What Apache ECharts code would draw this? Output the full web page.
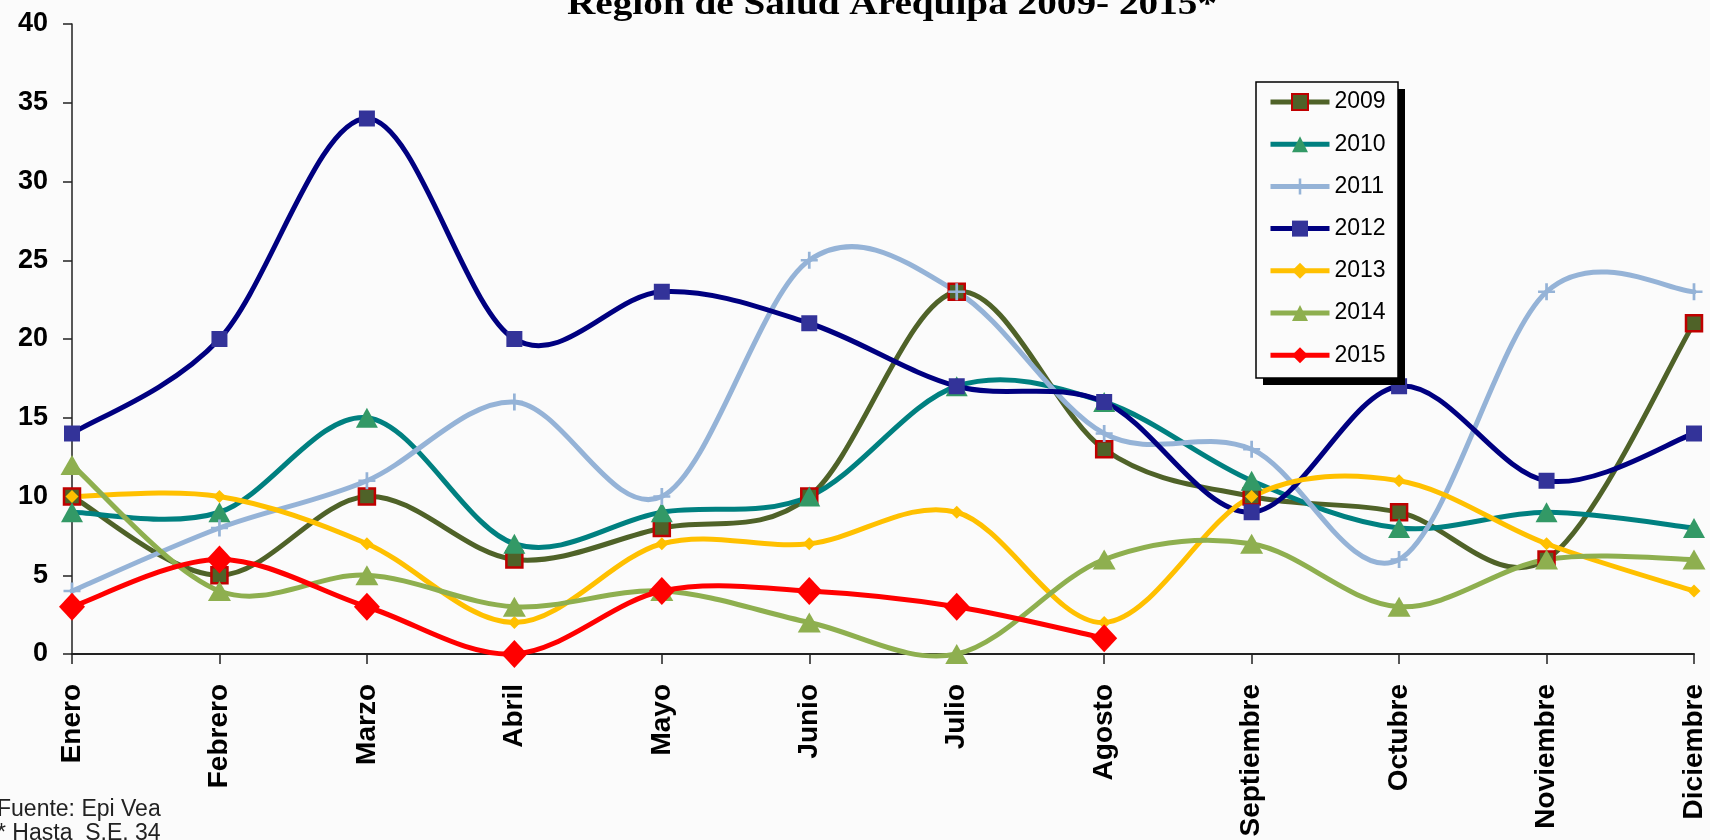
<!DOCTYPE html>
<html>
<head>
<meta charset="utf-8">
<script src="https://cdn.jsdelivr.net/npm/echarts@6/dist/echarts.min.js"></script>
<style>
html,body{margin:0;padding:0;background:#fbfbfb;}
#c{width:1710px;height:840px;}
</style>
</head>
<body>
<div id="c"></div>
<script>
const months = ['Enero','Febrero','Marzo','Abril','Mayo','Junio','Julio','Agosto','Septiembre','Octubre','Noviembre','Diciembre'];
const y2009 = [10,5,10,6,8,10,23,13,10,9,6,21];
const y2010 = [9,9,15,7,9,10,17,16,11,8,9,8];
const y2011 = [4,8,11,16,10,25,23,14,13,6,23,23];
const y2012 = [14,20,34,20,23,21,17,16,9,17,11,14];
const y2013 = [10,10,7,2,7,7,9,2,10,11,7,4];
const y2014 = [12,4,5,3,4,2,0,6,7,3,6,6];
const y2015 = [3,6,3,0,4,4,3,1,null,null,null,null];
const yTicks = [0,5,10,15,20,25,30,35,40];
const titleText = 'Región de Salud Arequipa 2009- 2015*';
const note1 = 'Fuente: Epi Vea';
const note2 = '* Hasta  S.E. 34';

const plus = 'path://M4.2,0h1.6v4.2h4.2v1.6h-4.2v4.2h-1.6v-4.2h-4.2v-1.6h4.2z';

// Excel-like smoothed line (Catmull-Rom bezier) drawn through the axes via api.coord
function smoothPath(values) {
  return function (params, api) {
    const segs = [];
    let cur = [];
    values.forEach(function (v, i) {
      if (v == null) { if (cur.length) segs.push(cur); cur = []; }
      else cur.push(api.coord([i, v]));
    });
    if (cur.length) segs.push(cur);
    let d = '';
    segs.forEach(function (p) {
      d += 'M' + p[0][0] + ' ' + p[0][1];
      for (let i = 0; i < p.length - 1; i++) {
        const p0 = p[i - 1] || p[i], p1 = p[i], p2 = p[i + 1], p3 = p[i + 2] || p[i + 1];
        const c1x = p1[0] + (p2[0] - p0[0]) / 6, c1y = p1[1] + (p2[1] - p0[1]) / 6;
        const c2x = p2[0] - (p3[0] - p1[0]) / 6, c2y = p2[1] - (p3[1] - p1[1]) / 6;
        d += 'C' + c1x + ' ' + c1y + ' ' + c2x + ' ' + c2y + ' ' + p2[0] + ' ' + p2[1];
      }
    });
    return {type: 'path', shape: {pathData: d}, style: {fill: null, stroke: api.visual('color'), lineWidth: 5, lineJoin: 'round', lineCap: 'round'}};
  };
}

function mk(name, data, lineColor, symbol, size, fill, border, bw) {
  return [{
    name: 'c' + name, type: 'custom', coordinateSystem: 'cartesian2d', clip: false,
    data: [[0, 0]], encode: {x: 0, y: 1}, silent: true,
    itemStyle: {color: lineColor},
    renderItem: smoothPath(data)
  }, {
    name: name, type: 'line', data: data,
    symbol: symbol, symbolSize: size, showSymbol: true,
    lineStyle: {color: lineColor, width: 5, opacity: 0},
    itemStyle: {color: fill, borderColor: border || fill, borderWidth: bw || 0},
    emphasis: {disabled: true},
    connectNulls: false
  }];
}

// title width fit
const titleFont = 'bold 34px "Liberation Serif"';
const cv = document.createElement('canvas').getContext('2d');
cv.font = titleFont;
const titleScale = 650 / cv.measureText(titleText).width;

const chart = echarts.init(document.getElementById('c'));
chart.setOption({
  backgroundColor: '#fbfbfb',
  animation: false,
  grid: {left: 72, right: 16, top: 24, bottom: 186},
  xAxis: {
    type: 'category', data: months, boundaryGap: false,
    axisLine: {lineStyle: {color: '#222', width: 2}},
    axisTick: {show: true, length: 10, alignWithLabel: true, lineStyle: {color: '#222', width: 1.5}},
    axisLabel: {rotate: 90, margin: 30, fontSize: 28, fontWeight: 'bold', color: '#000',
      fontFamily: 'Liberation Sans, Arial', interval: 0}
  },
  yAxis: {
    type: 'value', min: 0, max: 40, interval: 5,
    splitLine: {show: false},
    axisLine: {show: true, lineStyle: {color: '#222', width: 1.5}},
    axisTick: {show: true, length: 9, lineStyle: {color: '#222', width: 1.5}},
    axisLabel: {margin: 24, fontSize: 27, fontWeight: 'bold', color: '#000',
      fontFamily: 'Liberation Sans, Arial',
      formatter: function(v){ return yTicks.indexOf(v) >= 0 ? String(v) : ''; }}
  },
  legend: {
    orient: 'vertical', left: 1268, top: 90.5, z: 10, padding: 0,
    itemWidth: 59, itemHeight: 20, itemGap: 19.2,
    lineStyle: {width: 5, opacity: 1},
    textStyle: {fontSize: 23, color: '#000', fontFamily: 'Liberation Sans, Arial'},
    data: ['2009','2010','2011','2012','2013','2014','2015']
  },
  graphic: [
    {type: 'rect', z: 5, shape: {x: 1263, y: 89, width: 142, height: 296}, style: {fill: '#000'}},
    {type: 'rect', z: 6, shape: {x: 1256, y: 82, width: 142, height: 296}, style: {fill: '#fbfbfb', stroke: '#000', lineWidth: 1.5}},
    {type: 'text', z: 60, x: 892, y: 5.5, scaleX: titleScale, style: {text: titleText, font: titleFont, fill: '#000', align: 'center', verticalAlign: 'middle'}},
    {type: 'text', z: 60, x: -3, y: 821, style: {text: note1, font: '23px "Liberation Sans", Arial', fill: '#222', align: 'left', verticalAlign: 'bottom'}},
    {type: 'text', z: 60, x: -3, y: 845, style: {text: note2, font: '23px "Liberation Sans", Arial', fill: '#222', align: 'left', verticalAlign: 'bottom'}}
  ],
  series: [].concat(
    mk('2009', y2009, '#4F6228', 'rect', 16, '#4F6228', '#C00000', 2.5),
    mk('2010', y2010, '#008080', 'triangle', [22, 20], '#339966'),
    mk('2011', y2011, '#95B3D7', plus, 17, '#95B3D7'),
    mk('2012', y2012, '#000080', 'rect', 16, '#333399'),
    mk('2013', y2013, '#FFC000', 'diamond', 13, '#FFC000'),
    mk('2014', y2014, '#8EAF4F', 'triangle', [23, 20], '#8EAF4F'),
    mk('2015', y2015, '#FF0000', 'diamond', [26, 28], '#FF0000')
  )
});
</script>
</body>
</html>
